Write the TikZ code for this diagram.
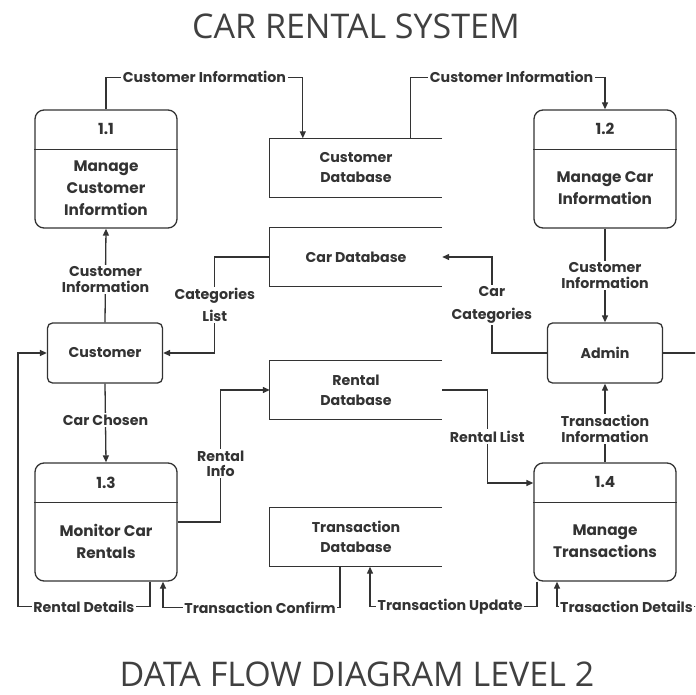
\documentclass[tikz,border=0pt]{standalone}
\usepackage{fontspec}
\setmainfont{Poppins}
\newfontfamily\titlefont{Open Sans}
\usetikzlibrary{arrows.meta}

\tikzset{
  link/.style={draw=black!80, line width=1.3pt},
  flow/.style={link, -{Triangle[length=7pt,width=6pt]}},
  lbl/.style={fill=white, inner sep=1.5pt, text=black!80, align=center,
    font=\fontsize{14.2}{15.5}\selectfont\bfseries},
  process/.style={draw=black!80, line width=1.3pt, rounded corners=9pt,
    minimum width=142pt, minimum height=118pt},
  pid/.style={text=black!80, font=\fontsize{15.3}{22}\selectfont\bfseries},
  ptext/.style={pid, align=center},
  entity/.style={draw=black!80, line width=1.3pt, rounded corners=5pt,
    minimum width=115pt, minimum height=60pt, text=black!80,
    font=\fontsize{14.2}{15.5}\selectfont\bfseries},
  store/.style={minimum width=172pt, minimum height=59pt, inner sep=0pt,
    align=center, text=black!80, font=\fontsize{14.2}{20}\selectfont\bfseries},
  title/.style={anchor=base, inner sep=0pt, text=black!75,
    font=\titlefont\fontsize{34}{40}\selectfont}
}

\begin{document}
\begin{tikzpicture}[x=1pt, y=-1pt]
    \useasboundingbox (0,0) rectangle (695,695);
    \clip (0,0) rectangle (695,695);

    \node[title] (ttl) at (356,39) {CAR RENTAL SYSTEM};
    \node[title] (sub) at (357,686) {DATA FLOW DIAGRAM LEVEL 2};

    % processes
    \foreach \nm/\cx/\cy/\num/\txt in {
        p11/106/169/1.1/{Manage\\Customer\\Informtion},
        p12/605/169/1.2/{Manage Car\\Information},
        p13/106/522/1.3/{Monitor Car\\Rentals},
        p14/605/522/1.4/{Manage\\Transactions}}
    {
        \node[process] (\nm) at (\cx,\cy) {};
        \draw[link] ([yshift=-40pt]\nm.north west) -- ([yshift=-40pt]\nm.north east);
        \node[pid] at ([yshift=-20pt]\nm.north) {\num};
        \node[ptext] at ([yshift=-79pt]\nm.north) {\txt};
    }

    % external entities
    \node[entity] (cust) at (105,353) {Customer};
    \node[entity] (admin) at (605,353) {Admin};

    % data stores
    \node[store] (cdb) at (356,168) {Customer\\Database};
    \node[store] (cardb) at (356,257) {Car Database};
    \node[store] (rdb) at (356,390) {Rental\\Database};
    \node[store] (tdb) at (356,537) {Transaction\\Database};
    \foreach \s in {cdb,cardb,rdb,tdb}
        \draw[link] (\s.north east) -- (\s.north west) -- (\s.south west) -- (\s.south east);

    % flows
    \draw[flow] (p11.north) -- ++(0,-32) -| ([xshift=33pt]cdb.north west)
        node[lbl, pos=0.25] {Customer Information};
    \draw[flow] ([xshift=-32pt]cdb.north east) -- ++(0,-61) -| (p12.north)
        node[lbl, pos=0.26] {Customer Information};
    \draw[flow] (p12.south) -- (admin.north)
        node[lbl, midway] {Customer\\Information};
    \draw[flow] (cust.north) -- (p11.south)
        node[lbl, midway, yshift=-4pt] {Customer\\Information};
    \draw[flow] (cardb.west) -- ++(-55,0) |- (cust.east)
        node[lbl, pos=0.25] {Categories\\[7pt]List};
    \draw[flow] (admin.west) -- ++(-55,0) |- (cardb.east)
        node[lbl, pos=0.25] {Car\\[7pt]Categories};
    \draw[flow] (admin.east) -- ++(43,0) |- ([xshift=-48pt,yshift=-25pt]p14.south)
        node[lbl, pos=0.767] {Trasaction Details} -- ([xshift=-48pt]p14.south);
    \draw[flow] (cust.south) -- (p13.north)
        node[lbl, midway, yshift=3pt] {Car Chosen};
    \draw[flow] (p13.east) -- ++(43,0) |- (rdb.west)
        node[lbl, pos=0.22] {Rental\\Info};
    \draw[flow] (rdb.east) -- ++(45,0) |- ([yshift=39pt]p14.west)
        node[lbl, pos=0.25] {Rental List};
    \draw[flow] (p14.north) -- (admin.south)
        node[lbl, midway, yshift=-6pt] {Transaction\\Information};
    \draw[flow] ([xshift=44pt]p13.south) -- ++(0,25) -| ([xshift=-29pt]cust.west)
        node[lbl, pos=0.25] {Rental Details} -- (cust.west);
    \draw[flow] ([xshift=-16pt]tdb.south) -- ++(0,41) -| ([xshift=57pt]p13.south)
        node[lbl, pos=0.226] {Transaction Confirm};
    \draw[flow] ([xshift=-68pt]p14.south) -- ++(0,25) -| ([xshift=14pt]tdb.south)
        node[lbl, pos=0.26] {Transaction Update};
\end{tikzpicture}
\end{document}
